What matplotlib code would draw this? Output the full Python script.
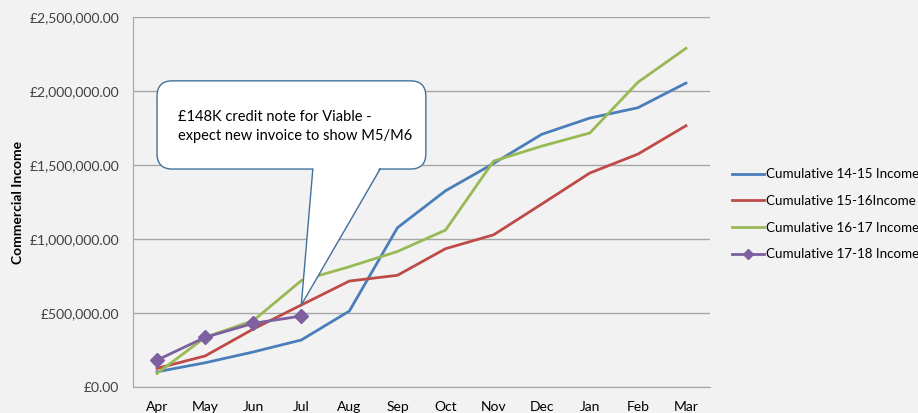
import matplotlib
matplotlib.use("Agg")
import matplotlib.pyplot as plt
from matplotlib.patches import FancyBboxPatch, Polygon
from matplotlib.ticker import FuncFormatter

months = ["Apr", "May", "Jun", "Jul", "Aug", "Sep", "Oct", "Nov", "Dec", "Jan", "Feb", "Mar"]
inc_14_15 = [101000, 162000, 235000, 316000, 512000, 1076000, 1326000, 1511000, 1708000, 1818000, 1888000, 2055000]
inc_15_16 = [124000, 208000, 390000, 553000, 715000, 754000, 934000, 1028000, 1236000, 1446000, 1574000, 1766000]
inc_16_17 = [90000, 334000, 447000, 718000, 812000, 915000, 1060000, 1527000, 1628000, 1717000, 2060000, 2290000]
inc_17_18 = [180000, 334000, 429000, 478000]
labels = ["Cumulative 14-15 Income", "Cumulative 15-16Income", "Cumulative 16-17 Income", "Cumulative 17-18 Income"]
colors = ["#4A7EBB", "#BE4B48", "#98B954", "#7D60A0"]
callout_text = "£148K credit note for Viable -\nexpect new invoice to show M5/M6"

plt.rcParams['font.family'] = ['Lato', 'DejaVu Sans']
bg = "#F2F2F2"
fig = plt.figure(figsize=(9.18, 4.13), dpi=100, facecolor=bg)
ax = fig.add_axes([133/918, (413-386.7)/413, 577/918, (386.7-17.3)/413])
ax.set_facecolor(bg)

x = list(range(len(months)))
series = [inc_14_15, inc_15_16, inc_16_17]
lines = []
for vals, c, lab in zip(series, colors[:3], labels[:3]):
    l, = ax.plot(x[:len(vals)], vals, color=c, lw=2.0, label=lab, solid_joinstyle='round', zorder=3)
    lines.append(l)
l, = ax.plot(x[:len(inc_17_18)], inc_17_18, color=colors[3], lw=2.0, marker='D', markersize=7,
             label=labels[3], zorder=4)
lines.append(l)

ax.set_xlim(-0.5, 11.5)
ax.set_ylim(0, 2500000)
ax.set_yticks([0, 500000, 1000000, 1500000, 2000000, 2500000])
ax.yaxis.set_major_formatter(FuncFormatter(lambda v, p: "£{:,.2f}".format(v)))
ax.set_xticks(x)
ax.set_xticklabels(months)
ax.grid(axis='y', color="#A6A6A6", lw=1.0)
ax.set_axisbelow(True)
for s in ['top', 'right']:
    ax.spines[s].set_visible(False)
for s in ['left', 'bottom']:
    ax.spines[s].set_color("#A6A6A6")
ax.tick_params(axis='both', length=0, labelsize=10, colors="#404040")
ax.tick_params(axis='x', pad=10, labelcolor="#000000")
ax.tick_params(axis='y', pad=10)
ax.set_ylabel("Commercial Income", fontsize=10, fontweight='bold', labelpad=4)

# callout
px_x = 1/48.08
px_y = 500000/73.9
bx0, bx1 = -0.0, 5.59
by0, by1 = 1473000, 2070000
box = FancyBboxPatch((bx0, by0), bx1-bx0, by1-by0,
                     boxstyle="round,pad=0,rounding_size=0.32",
                     mutation_aspect=px_y/px_x,
                     facecolor="white", edgecolor="#41719C", lw=1.0, zorder=5, clip_on=False)
ax.add_patch(box)
tip = (3, inc_15_16[3])
tl = (3.24, by0 + 3*px_y)
tr = (4.64, by0 + 3*px_y)
ax.add_patch(Polygon([tl, tip, tr], closed=True, facecolor="white", edgecolor="none", zorder=6))
ax.plot([tl[0], tip[0], tr[0]], [by0, tip[1], by0], color="#41719C", lw=1.0, zorder=7)
ax.text(bx0 + 21*px_x, by1 - 29*px_y, callout_text, fontsize=10.5, va='top', ha='left',
        linespacing=1.45, zorder=8)

fig.legend(handles=lines, labels=labels, loc='upper left', bbox_to_anchor=(727/918, 1-163/413),
           frameon=False, fontsize=9.6, handlelength=2.4, handletextpad=0.15, labelspacing=1.1,
           borderaxespad=0, markerscale=0.75)

fig.savefig("out.png", dpi=100, facecolor=bg)
